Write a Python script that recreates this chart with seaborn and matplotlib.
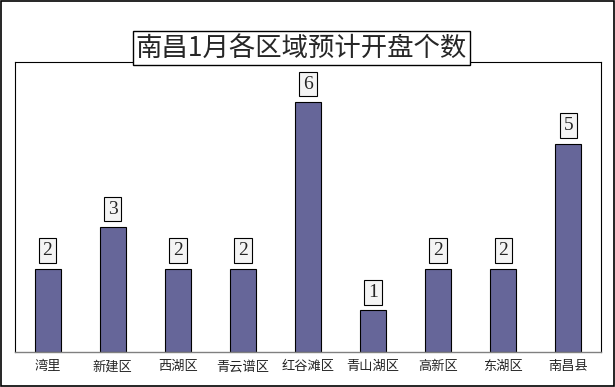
import matplotlib
matplotlib.use("Agg")
import matplotlib.pyplot as plt
import seaborn as sns
import pandas as pd

# Data
districts = ['湾里', '新建区', '西湖区', '青云谱区', '红谷滩区', '青山湖区', '高新区', '东湖区', '南昌县']
counts = [2, 3, 2, 2, 6, 1, 2, 2, 5]
title = '南昌1月各区域预计开盘个数'

sns.set_theme(style="white")
plt.rcParams['font.family'] = ['Noto Sans CJK SC', 'DejaVu Sans']

df = pd.DataFrame({'区域': districts, '个数': counts})

fig = plt.figure(figsize=(6.15, 3.87), dpi=100)
ax = fig.add_axes([15 / 615, 1 - 352 / 387, 586 / 615, 290 / 387])

sns.barplot(data=df, x='区域', y='个数', color='#666699', saturation=1,
            width=0.4, edgecolor='black', linewidth=0.8, ax=ax)

ax.set_ylim(0, 6.96)
ax.set_xlim(-0.5, len(districts) - 0.5)
ax.set_xlabel('')
ax.set_ylabel('')
ax.set_yticks([])
ax.tick_params(axis='x', length=0, labelsize=9.5, pad=6)
for s in ['top', 'left', 'right']:
    ax.spines[s].set_color('black')
    ax.spines[s].set_linewidth(0.8)
ax.spines['bottom'].set_color('#808080')
ax.spines['bottom'].set_linewidth(1.0)

# value labels
for i, v in enumerate(counts):
    ax.text(i, v + 0.43, str(v), ha='center', va='center', fontsize=14,
            family=['Liberation Serif', 'DejaVu Serif'],
            bbox=dict(boxstyle='square,pad=0.2', facecolor='#f4f4f4',
                      edgecolor='black', linewidth=0.8))

# title box
fig.text(0.49, 1 - 48 / 387, title, ha='center', va='center', fontsize=19,
         fontweight='medium',
         bbox=dict(boxstyle='square,pad=0.12', facecolor='white',
                   edgecolor='black', linewidth=1))

# outer border
fig.patches.append(plt.Rectangle((0.001, 0.002), 0.997, 0.996, transform=fig.transFigure,
                                 fill=False, edgecolor='black', linewidth=1.2))

fig.savefig('out.png', dpi=100)
